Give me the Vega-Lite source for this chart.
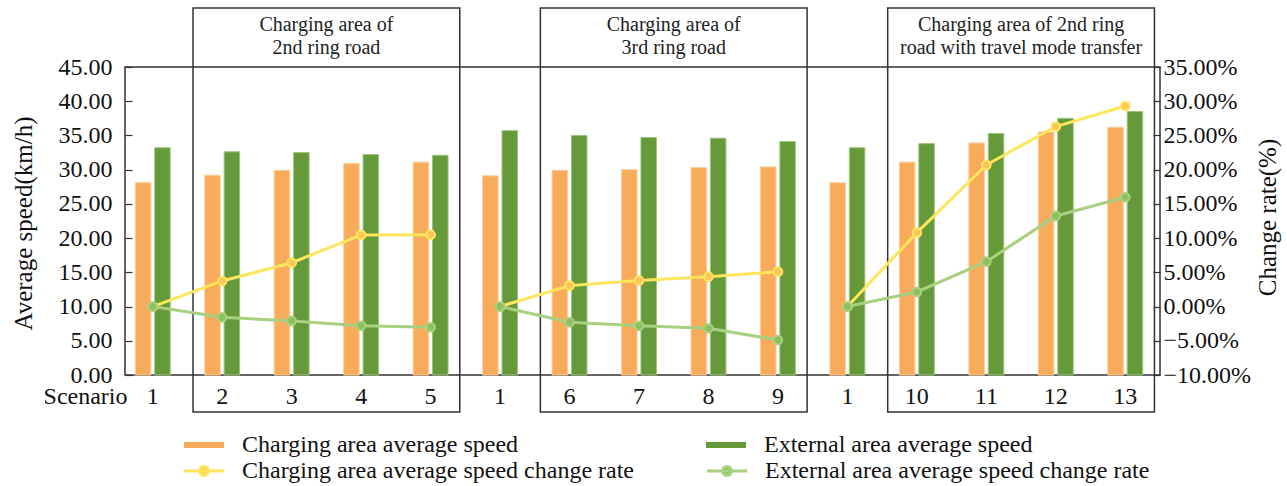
{
  "$schema": "https://vega.github.io/schema/vega-lite/v6.json",
  "width": 1035,
  "height": 308,
  "autosize": "none",
  "padding": {"left": 125, "top": 67, "right": 127, "bottom": 111},
  "config": {
    "font": "Liberation Serif",
    "view": {"stroke": "#333333", "strokeWidth": 1.5},
    "axis": {"grid": false, "labelOverlap": false, "labelColor": "#111111", "titleColor": "#111111", "titleFontWeight": "normal", "labelFont": "Liberation Serif", "titleFont": "Liberation Serif"},
    "legend": {"labelFont": "Liberation Serif", "labelColor": "#111111"}
  },
  "datasets": {
    "speeds": [
      {"slot": 1, "series": "Charging area average speed", "speed": 28.1},
      {"slot": 1, "series": "External area average speed", "speed": 33.2},
      {"slot": 2, "series": "Charging area average speed", "speed": 29.2},
      {"slot": 2, "series": "External area average speed", "speed": 32.6},
      {"slot": 3, "series": "Charging area average speed", "speed": 29.9},
      {"slot": 3, "series": "External area average speed", "speed": 32.5},
      {"slot": 4, "series": "Charging area average speed", "speed": 30.9},
      {"slot": 4, "series": "External area average speed", "speed": 32.2},
      {"slot": 5, "series": "Charging area average speed", "speed": 31.1},
      {"slot": 5, "series": "External area average speed", "speed": 32.1},
      {"slot": 6, "series": "Charging area average speed", "speed": 29.1},
      {"slot": 6, "series": "External area average speed", "speed": 35.7},
      {"slot": 7, "series": "Charging area average speed", "speed": 29.9},
      {"slot": 7, "series": "External area average speed", "speed": 35.0},
      {"slot": 8, "series": "Charging area average speed", "speed": 30.0},
      {"slot": 8, "series": "External area average speed", "speed": 34.7},
      {"slot": 9, "series": "Charging area average speed", "speed": 30.3},
      {"slot": 9, "series": "External area average speed", "speed": 34.6},
      {"slot": 10, "series": "Charging area average speed", "speed": 30.4},
      {"slot": 10, "series": "External area average speed", "speed": 34.1},
      {"slot": 11, "series": "Charging area average speed", "speed": 28.1},
      {"slot": 11, "series": "External area average speed", "speed": 33.2},
      {"slot": 12, "series": "Charging area average speed", "speed": 31.1},
      {"slot": 12, "series": "External area average speed", "speed": 33.8},
      {"slot": 13, "series": "Charging area average speed", "speed": 33.9},
      {"slot": 13, "series": "External area average speed", "speed": 35.3},
      {"slot": 14, "series": "Charging area average speed", "speed": 35.5},
      {"slot": 14, "series": "External area average speed", "speed": 37.5},
      {"slot": 15, "series": "Charging area average speed", "speed": 36.2},
      {"slot": 15, "series": "External area average speed", "speed": 38.5}
    ],
    "rates": [
      {"slot": 1, "group": "g1", "series": "Charging area average speed change rate", "rate": 0},
      {"slot": 2, "group": "g1", "series": "Charging area average speed change rate", "rate": 0.0374},
      {"slot": 3, "group": "g1", "series": "Charging area average speed change rate", "rate": 0.064},
      {"slot": 4, "group": "g1", "series": "Charging area average speed change rate", "rate": 0.1046},
      {"slot": 5, "group": "g1", "series": "Charging area average speed change rate", "rate": 0.105},
      {"slot": 6, "group": "g2", "series": "Charging area average speed change rate", "rate": 0},
      {"slot": 7, "group": "g2", "series": "Charging area average speed change rate", "rate": 0.0306},
      {"slot": 8, "group": "g2", "series": "Charging area average speed change rate", "rate": 0.038},
      {"slot": 9, "group": "g2", "series": "Charging area average speed change rate", "rate": 0.0437},
      {"slot": 10, "group": "g2", "series": "Charging area average speed change rate", "rate": 0.051},
      {"slot": 11, "group": "g3", "series": "Charging area average speed change rate", "rate": 0},
      {"slot": 12, "group": "g3", "series": "Charging area average speed change rate", "rate": 0.108},
      {"slot": 13, "group": "g3", "series": "Charging area average speed change rate", "rate": 0.207},
      {"slot": 14, "group": "g3", "series": "Charging area average speed change rate", "rate": 0.263},
      {"slot": 15, "group": "g3", "series": "Charging area average speed change rate", "rate": 0.293},
      {"slot": 1, "group": "g1", "series": "External area average speed change rate", "rate": 0},
      {"slot": 2, "group": "g1", "series": "External area average speed change rate", "rate": -0.0157},
      {"slot": 3, "group": "g1", "series": "External area average speed change rate", "rate": -0.021},
      {"slot": 4, "group": "g1", "series": "External area average speed change rate", "rate": -0.028},
      {"slot": 5, "group": "g1", "series": "External area average speed change rate", "rate": -0.0303},
      {"slot": 6, "group": "g2", "series": "External area average speed change rate", "rate": 0},
      {"slot": 7, "group": "g2", "series": "External area average speed change rate", "rate": -0.023},
      {"slot": 8, "group": "g2", "series": "External area average speed change rate", "rate": -0.028},
      {"slot": 9, "group": "g2", "series": "External area average speed change rate", "rate": -0.0317},
      {"slot": 10, "group": "g2", "series": "External area average speed change rate", "rate": -0.0488},
      {"slot": 11, "group": "g3", "series": "External area average speed change rate", "rate": 0},
      {"slot": 12, "group": "g3", "series": "External area average speed change rate", "rate": 0.0213},
      {"slot": 13, "group": "g3", "series": "External area average speed change rate", "rate": 0.0656},
      {"slot": 14, "group": "g3", "series": "External area average speed change rate", "rate": 0.1324},
      {"slot": 15, "group": "g3", "series": "External area average speed change rate", "rate": 0.1597}
    ],
    "boxes": [
      {"start": 2, "end": 5, "mid": 3, "label": "Charging area of\n2nd ring road"},
      {"start": 7, "end": 10, "mid": 8, "label": "Charging area of\n3rd ring road"},
      {"start": 12, "end": 15, "mid": 13, "label": "Charging area of 2nd ring\nroad with travel mode transfer"}
    ]
  },
  "layer": [
    {
      "layer": [
        {
          "data": {"name": "speeds"},
          "mark": {"type": "bar", "strokeWidth": 1},
          "encoding": {
            "x": {
              "field": "slot", "type": "ordinal",
              "scale": {"domain": [1,2,3,4,5,6,7,8,9,10,11,12,13,14,15], "range": [-7, 1035], "paddingInner": 0, "paddingOuter": 0},
              "axis": {
                "title": "Scenario",
                "labelExpr": "['1','2','3','4','5','1','6','7','8','9','1','10','11','12','13'][datum.value-1]",
                "ticks": false, "domain": false, "labelAngle": 0,
                "labelPadding": 28, "labelBaseline": "alphabetic", "labelFontSize": 24, "labelFont": "Liberation Serif",
                "titleFontSize": 24, "titleFont": "Liberation Serif", "titleX": 2, "titleY": 28, "titleAlign": "right", "titleBaseline": "alphabetic"
              }
            },
            "xOffset": {"field": "series", "type": "nominal", "scale": {"domain": ["Charging area average speed", "External area average speed"], "paddingInner": 0.2, "paddingOuter": 0.89}},
            "y": {
              "field": "speed", "type": "quantitative",
              "scale": {"domain": [0, 45]},
              "axis": {
                "title": "Average speed(km/h)",
                "tickCount": 9, "format": ".2f", "labelOverlap": false,
                "domain": false, "tickSize": -7, "tickColor": "#333333", "tickWidth": 1.2,
                "labelPadding": 20, "labelFontSize": 24, "labelFont": "Liberation Serif",
                "titleFontSize": 25, "titleFont": "Liberation Serif", "titleX": -102, "titleY": 156, "titleAngle": 270, "titleAlign": "center", "titleBaseline": "middle"
              }
            },
            "fill": {
              "field": "series", "type": "nominal",
              "scale": {
                "domain": ["Charging area average speed", "External area average speed"],
                "range": ["#F8AC5B", "#66993A"]
              },
              "legend": {
                "title": null, "orient": "none", "legendX": 67, "legendY": 366, "direction": "horizontal",
                "columns": 2, "columnPadding": 187, "rowPadding": 2,
                "symbolType": "M-2,-0.3H2V0.3H-2Z", "symbolSize": 400, "symbolStrokeWidth": 0,
                "labelOffset": 26, "labelFontSize": 24, "labelLimit": 700, "labelFont": "Liberation Serif"
              }
            },
            "stroke": {
              "condition": {"test": "datum.series === 'Charging area average speed'", "value": "#FCCD98"},
              "value": "#9CC47C"
            }
          }
        },
        {
          "data": {"name": "boxes"},
          "mark": {"type": "rect", "fillOpacity": 0, "stroke": "#333333", "strokeWidth": 1.5, "clip": false},
          "encoding": {
            "x": {"field": "start", "type": "ordinal", "bandPosition": 0.08},
            "x2": {"field": "end", "bandPosition": 0.92},
            "y": {"datum": 53.62, "type": "quantitative"},
            "y2": {"datum": -5.41}
          }
        },
        {
          "data": {"name": "boxes"},
          "mark": {"type": "text", "fontSize": 20, "lineBreak": "\n", "lineHeight": 23.5, "baseline": "alphabetic", "align": "center", "color": "#222222", "clip": false},
          "encoding": {
            "x": {"field": "mid", "type": "ordinal", "bandPosition": 1},
            "y": {"datum": 50.26, "type": "quantitative"},
            "text": {"field": "label"}
          }
        }
      ]
    },
    {
      "layer": [
        {
          "data": {"name": "rates"},
          "mark": {"type": "line", "strokeWidth": 3},
          "encoding": {
            "x": {"field": "slot", "type": "ordinal"},
            "y": {
              "field": "rate", "type": "quantitative",
              "scale": {"domain": [-0.1, 0.35]},
              "axis": {
                "orient": "right", "title": "Change rate(%)",
                "tickCount": 9, "format": ".2%", "labelOverlap": false,
                "domain": false, "tickSize": -7, "tickColor": "#333333", "tickWidth": 1.2,
                "labelPadding": 10, "labelFontSize": 24, "labelFont": "Liberation Serif",
                "titleFontSize": 25, "titleFont": "Liberation Serif", "titleX": 107, "titleY": 150, "titleAngle": 270, "titleAlign": "center", "titleBaseline": "middle"
              }
            },
            "stroke": {
              "field": "series", "type": "nominal",
              "scale": {"domain": ["Charging area average speed change rate", "External area average speed change rate"], "range": ["#FFE55C", "#A8D080"]},
              "legend": {
                "title": null, "orient": "none", "legendX": 67, "legendY": 392, "direction": "horizontal",
                "columns": 2, "columnPadding": 66, "rowPadding": 2,
                "symbolType": "M-2,0H2M-0.45,0A0.45,0.45,0,1,0,0.45,0A0.45,0.45,0,1,0,-0.45,0Z", "symbolSize": 400, "symbolStrokeWidth": 3,
                "labelOffset": 26, "labelFontSize": 24, "labelLimit": 700, "labelFont": "Liberation Serif"
              }
            },
            "detail": {"field": "group"}
          }
        },
        {
          "data": {"name": "rates"},
          "mark": {"type": "point", "filled": true, "size": 75, "strokeWidth": 2, "opacity": 1},
          "encoding": {
            "x": {"field": "slot", "type": "ordinal"},
            "y": {"field": "rate", "type": "quantitative"},
            "fill": {
              "field": "series", "type": "nominal",
              "scale": {"domain": ["Charging area average speed change rate", "External area average speed change rate"], "range": ["#FAC65C", "#8DC05E"]},
              "legend": {
                "title": null, "orient": "none", "legendX": 67, "legendY": 392, "direction": "horizontal",
                "columns": 2, "columnPadding": 66, "rowPadding": 2,
                "symbolType": "M-2,0H2M-0.45,0A0.45,0.45,0,1,0,0.45,0A0.45,0.45,0,1,0,-0.45,0Z", "symbolSize": 400, "symbolStrokeWidth": 3,
                "labelOffset": 26, "labelFontSize": 24, "labelLimit": 700, "labelFont": "Liberation Serif"
              }
            },
            "stroke": {
              "field": "series", "type": "nominal",
              "legend": {
                "title": null, "orient": "none", "legendX": 67, "legendY": 392, "direction": "horizontal",
                "columns": 2, "columnPadding": 66, "rowPadding": 2,
                "symbolType": "M-2,0H2M-0.45,0A0.45,0.45,0,1,0,0.45,0A0.45,0.45,0,1,0,-0.45,0Z", "symbolSize": 400, "symbolStrokeWidth": 3,
                "labelOffset": 26, "labelFontSize": 24, "labelLimit": 700, "labelFont": "Liberation Serif"
              }
            }
          }
        }
      ]
    }
  ],
  "resolve": {"scale": {"y": "independent", "fill": "independent", "stroke": "independent"}}
}
